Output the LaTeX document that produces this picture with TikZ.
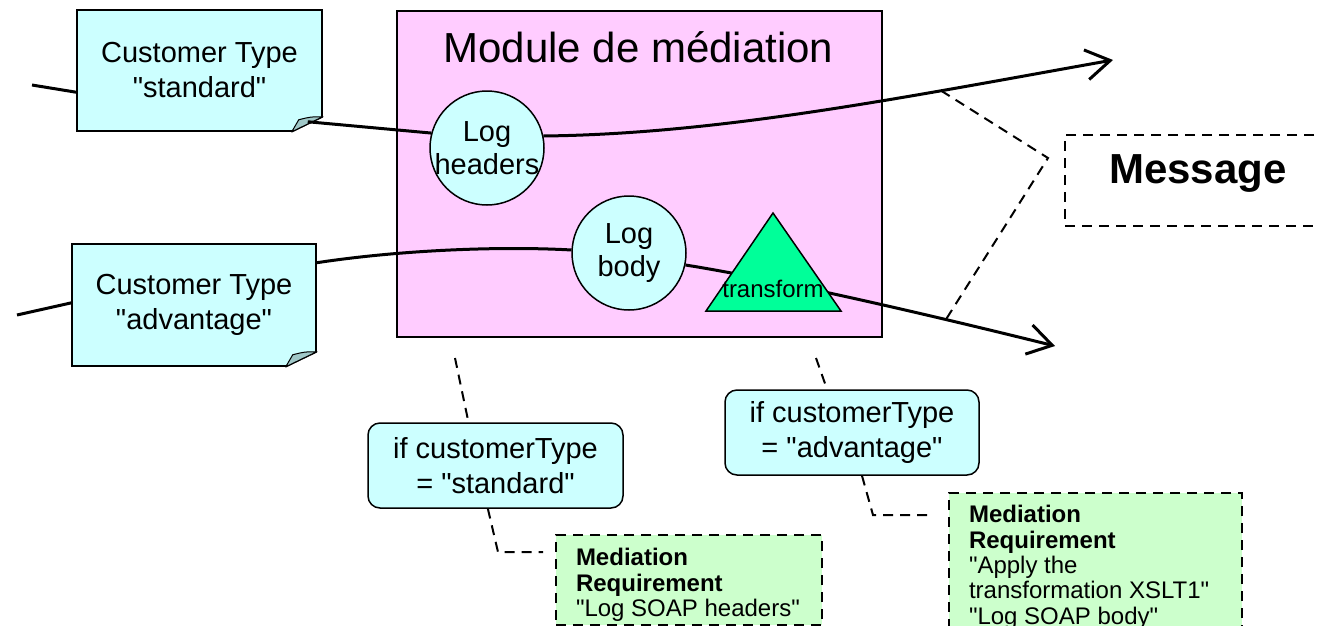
\documentclass[tikz,border=0pt]{standalone}
\usepackage{fontspec}
\setmainfont{Liberation Sans}[Ligatures=TeXOff]
\usetikzlibrary{arrows.meta,calc}
\definecolor{cyanfill}{RGB}{204,255,255}
\definecolor{pinkfill}{RGB}{255,204,255}
\definecolor{trigreen}{RGB}{0,255,153}
\definecolor{reqgreen}{RGB}{204,255,204}
\definecolor{foldcol}{RGB}{160,200,200}
\newcommand{\foldcorner}[1]{%
  \fill[white] ($(#1.south east)+(-31,0)$) -- ($(#1.south east)+(0,-15)$) -- ($(#1.south east)+(2,-15)$) -- ($(#1.south east)+(2,2)$) -- ($(#1.south east)+(-31,2)$) -- cycle;
  \draw[line width=1.5pt,line cap=round] ($(#1.south east)+(-31,0)$) -- ($(#1.south east)+(0,-15)$);
  \filldraw[fill=foldcol,line width=1pt,line join=round] ($(#1.south east)+(-31,0)$) -- ($(#1.south east)+(-24,-12)$) .. controls ($(#1.south east)+(-12,-15)$) .. ($(#1.south east)+(0,-15)$) -- cycle;
}
\begin{document}
\begin{tikzpicture}[x=1pt,y=-1pt,
  flow/.style={line width=3pt},
  arrowflow/.style={line width=3pt,-{Straight Barb[length=24pt,width=30pt]}},
  callout/.style={line width=2pt,dash pattern=on 10pt off 7pt},
  notebox/.style={draw,line width=1.5pt,fill=cyanfill,inner sep=0pt,align=center,
     font=\fontsize{29}{35}\selectfont},
  stepcircle/.style={circle,draw,line width=1.5pt,fill=cyanfill,minimum size=114pt,inner sep=-2pt,
     align=center,font=\fontsize{29}{33}\selectfont},
  condbox/.style={draw,line width=1.5pt,fill=cyanfill,rounded corners=12pt,inner sep=0pt,
     minimum width=255pt,minimum height=85pt,align=center,font=\fontsize{29}{35}\selectfont},
  reqbox/.style={draw,fill=reqgreen,line width=2pt,dash pattern=on 10pt off 7pt,
     anchor=north west,inner xsep=20pt,font=\fontsize{24}{25.3}\selectfont}
]
\useasboundingbox (0,0) rectangle (1318,625);
\clip (0,0) rectangle (1318,625);

% module
\node[draw,line width=2pt,fill=pinkfill,minimum width=485pt,minimum height=326pt,inner sep=0pt] (mod) at (639.5,174) {};
\node[anchor=base,inner sep=0pt,font=\fontsize{42}{50}\selectfont] (title) at (638.5,62) {Module de médiation};

% customer notes
\node[notebox,minimum width=245pt,minimum height=121pt] (cstd) at (199.5,70.5) {Customer Type\\"standard"};
\foldcorner{cstd}
\node[notebox,minimum width=244pt,minimum height=122pt] (cadv) at (194,305) {Customer Type\\"advantage"};
\foldcorner{cadv}

% message
\node[callout,draw,minimum width=266pt,minimum height=91pt,inner sep=0pt,text height=30pt,text depth=25pt,
  font=\fontsize{42}{50}\selectfont\bfseries] (msg) at (1198,180.5) {Message};

% mediation steps
\node[stepcircle] (lh) at (487,148) {Log\\headers};
\node[stepcircle] (lb) at (629,253) {Log\\body};

% flows
\coordinate (in1) at (32,85);
\coordinate (out1) at (1113,60);
\coordinate (in2) at (17,315);
\coordinate (out2) at (1055,346);
\draw[flow] (in1) -- (cstd.190);
\draw[flow] ($(cstd.south east)+(-15,-10)$) -- (lh.165);
\draw[arrowflow] (lh.12) .. controls (720,134) and (900,98) .. (out1) coordinate[pos=0.72] (m1);
\draw[flow] (in2) -- (cadv.179);
\draw[flow] (cadv.19) .. controls (400,250) and (500,246) .. (lb.177);
\draw[arrowflow] (lb.-12) .. controls (780,280) and (930,315) .. (out2) coordinate[pos=0.72] (m2);

% transform
\filldraw[fill=trigreen,line width=1.5pt,line join=miter] (773,213) -- (841,311) -- (706,311) -- cycle;
\node[inner sep=0pt,font=\fontsize{24}{28}\selectfont] (tr) at (773,288.5) {transform};

% message callout
\coordinate (apex) at (1048,158);
\draw[callout] (m1) -- (apex) -- (m2);

% conditions
\node[condbox] (cs) at (495.5,465.5) {if customerType\\= "standard"};
\node[condbox,minimum width=254pt] (ca) at (852,432.5) {if customerType\\= "advantage"};

% requirements
\node[reqbox,inner ysep=13.5pt] (ms) at (555,534) {\begin{minipage}[t][63pt][t]{226pt}\raggedright
  \textbf{Mediation}\\\textbf{Requirement}\\"Log SOAP headers"\end{minipage}};
\node[reqbox,inner ysep=12.5pt] (ma) at (948,492) {\begin{minipage}[t][130pt][t]{253pt}\raggedright
  \textbf{Mediation}\\\textbf{Requirement}\\"Apply the\\transformation XSLT1"\\"Log SOAP body"\end{minipage}};

% condition callouts
\coordinate (d1) at (455,358);
\coordinate (d2) at (816,358);
\draw[callout] (d1) -- (cs.122);
\draw[callout] (cs.-100) -- ($(ms.north west)+(-57,18)$) -- ($(ms.north west)+(-12,18)$);
\draw[callout] (d2) -- (ca.120);
\draw[callout] (ca.-77) -- ($(ma.north west)+(-75,23)$) -- ($(ma.north west)+(-16,23)$);
\end{tikzpicture}
\end{document}
